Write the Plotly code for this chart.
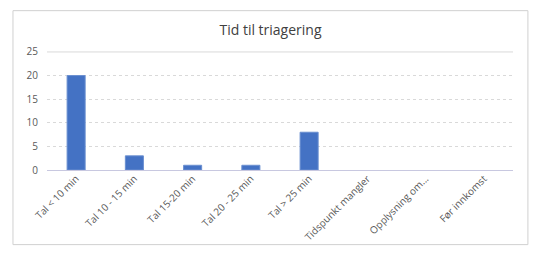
import plotly.graph_objects as go

categories = ["Tal < 10 min", "Tal 10 - 15 min", "Tal 15-20 min", "Tal 20 - 25 min",
              "Tal > 25 min", "Tidspunkt mangler", "Opplysning om...", "Før innkomst"]
values = [20, 3, 1, 1, 8, 0, 0, 0]
y_ticks = [0, 5, 10, 15, 20, 25]

fig = go.Figure()
fig.add_trace(go.Bar(
    x=categories, y=values,
    marker=dict(color="#4472C4", line=dict(color="#6A8FD0", width=[1 if v else 0 for v in values])),
    width=0.31,
))

fig.update_layout(
    width=541, height=259,
    margin=dict(l=47, r=28, t=51, b=89),
    paper_bgcolor="white", plot_bgcolor="white",
    showlegend=False,
    title=dict(text="Tid til triagering", x=0.5, xanchor="center", y=0.885, yanchor="middle",
               font=dict(family="Open Sans", size=14, color="#404040")),
    font=dict(family="Open Sans", size=10, color="#595959"),
    xaxis=dict(tickangle=-45, showgrid=False, showline=False, ticks="",
               tickfont=dict(size=10, color="#595959")),
    yaxis=dict(range=[0, 25.2], tickvals=y_ticks, showgrid=True,
               gridcolor="#D9D9D9", griddash="dot", gridwidth=1,
               zeroline=True, zerolinecolor="#C8C8E0", zerolinewidth=1,
               showline=False, ticks="", ticklabelstandoff=8,
               tickfont=dict(size=10, color="#595959")),
    shapes=[dict(type="rect", xref="paper", yref="paper",
                 x0=-0.073, x1=1.032, y0=-0.627, y1=1.339,
                 line=dict(color="#D0D0D0", width=1), fillcolor="rgba(0,0,0,0)", layer="below"),
            dict(type="line", xref="paper", yref="y", x0=0, x1=1,
                 y0=y_ticks[-1], y1=y_ticks[-1],
                 line=dict(color="#D9D9D9", width=1), layer="below")],
)

fig.write_html("out.html")
